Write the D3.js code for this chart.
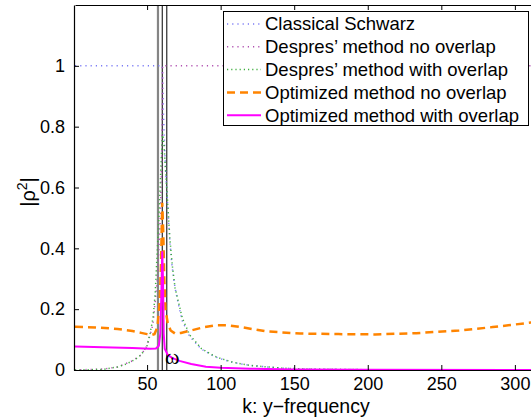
<!DOCTYPE html>
<html>
<head>
<meta charset="utf-8">
<script src="https://cdn.jsdelivr.net/npm/d3@7"></script>
<style>
  body { margin: 0; background: #fff; }
  svg { display: block; font-family: "Liberation Sans", Arial, sans-serif; }
</style>
</head>
<body>
<div id="chart-area"></div>
<script>
// chart data: [k, |rho|^2]
const classicalSchwarz = [[1,1],[60.4,1],[60.6,0.95],[61,0.86],[62,0.72],[63,0.62],[64,0.54],[65.5,0.42],[67,0.34],[69,0.27],[72,0.2],[74,0.16],[79,0.11],[87,0.068],[96,0.044],[100,0.037],[108,0.025],[120,0.015],[142,0.006],[160,0.003],[200,0.001],[313,0]]
const despresNoOverlap = [[1,0],[20,0.003],[30,0.01],[40,0.03],[46,0.05],[50,0.08],[54,0.15],[57,0.3],[59,0.5],[60,0.7],[60.4,0.9],[60.5,1],[313,1]]
const despresOverlap = [[1,0],[20,0.002],[30,0.01],[36,0.02],[42,0.035],[46,0.05],[50,0.08],[52,0.12],[54,0.17],[55.5,0.25],[57,0.4],[58.5,0.55],[59.5,0.68],[60.5,0.78],[61.5,0.74],[62.5,0.66],[64,0.55],[65.5,0.43],[67,0.35],[69,0.27],[72,0.21],[74,0.17],[79,0.115],[87,0.07],[96,0.045],[100,0.038],[108,0.026],[120,0.015],[142,0.006],[160,0.003],[200,0.001],[313,0]]
const optimizedNoOverlap = [[1,0.142],[15,0.14],[30,0.135],[40,0.128],[46,0.122],[50,0.118],[53,0.115],[55,0.118],[57,0.14],[58.5,0.22],[59.5,0.35],[60.3,0.55],[61,0.45],[61.7,0.3],[62.5,0.2],[64,0.155],[66,0.13],[69,0.12],[73,0.122],[80,0.13],[88,0.14],[97,0.147],[105,0.147],[115,0.14],[131,0.127],[154,0.12],[180,0.118],[205,0.117],[233,0.121],[262,0.13],[285,0.141],[313,0.157]]
const optimizedOverlap = [[1,0.077],[20,0.075],[40,0.072],[52,0.07],[56,0.071],[58,0.08],[59,0.12],[59.7,0.25],[60.3,0.39],[60.8,0.3],[61.3,0.12],[62,0.07],[64,0.05],[67,0.04],[72,0.03],[80,0.02],[90,0.011],[100,0.007],[120,0.004],[150,0.002],[200,0.001],[313,0]]

const seriesNames = ["Classical Schwarz", "Despres\u2019 method no overlap", "Despres\u2019 method with overlap", "Optimized method no overlap", "Optimized method with overlap"]
const markerK = [57.4, 60.3, 63.4]
const xTicks = [50, 100, 150, 200, 250, 300]
const yTicks = [0, 0.2, 0.4, 0.6, 0.8, 1]
const omegaPos = [62.1, 0.02]

const width = 531, height = 419
const padLeft = 74, padTop = 5, padBottom = 370

// styles for each series
const styles = [
  {color: "#7b7bf5", w: 1.5, dash: "1.2,4"},
  {color: "#b04fb0", w: 1.5, dash: "1.2,4"},
  {color: "#3fae3f", w: 1.5, dash: "1.2,3"},
  {color: "#ff8400", w: 2.5, dash: "8,5"},
  {color: "#ff00ff", w: 2, dash: null}
]
const allSeries = [classicalSchwarz, despresNoOverlap, despresOverlap, optimizedNoOverlap, optimizedOverlap]

let x = d3.scaleLinear().domain([1, 313]).range([75, 534])
let y = d3.scaleLinear().domain([0, 1.2]).range([padBottom, padTop])

let svg = d3.select("#chart-area").append("svg")
  .attr("width", width)
  .attr("height", height)

svg.append("defs").append("clipPath").attr("id", "clip")
  .append("rect").attr("x", padLeft).attr("y", padTop).attr("width", 534 - padLeft).attr("height", padBottom - padTop)

let plot = svg.append("g").attr("clip-path", "url(#clip)")

// vertical marker lines
plot.selectAll(".marker")
  .data(markerK)
  .enter().append("line")
  .attr("x1", d => x(d)).attr("x2", d => x(d))
  .attr("y1", padTop).attr("y2", padBottom)
  .attr("stroke", (d, i) => i == 0 ? "#858585" : "#000")
  .attr("stroke-width", (d, i) => i == 0 ? 2.2 : 1)

let line = d3.line().x(d => x(d[0])).y(d => y(d[1]))

allSeries.forEach((s, i) => {
  plot.append("path")
    .attr("d", line(s))
    .attr("fill", "none")
    .attr("stroke", styles[i].color)
    .attr("stroke-width", styles[i].w)
    .attr("stroke-dasharray", styles[i].dash)
})

// omega annotation
svg.append("text")
  .attr("x", x(omegaPos[0]))
  .attr("y", y(omegaPos[1]))
  .attr("font-family", "Liberation Serif, serif")
  .attr("font-size", 22)
  .text("\u03c9")

// axes (matlab style, ticks inward)
let xAxis = d3.axisBottom(x).tickValues(xTicks).tickSizeInner(-5).tickSizeOuter(0).tickPadding(7)
let yAxis = d3.axisLeft(y).tickValues(yTicks).tickSizeInner(-5).tickSizeOuter(0).tickPadding(9)
  .tickFormat(d => d == 0 || d == 1 ? d3.format("d")(d) : d3.format(".1f")(d))

let gx = svg.append("g")
  .attr("transform", "translate(0," + padBottom + ")")
  .call(xAxis)
let gy = svg.append("g")
  .attr("transform", "translate(" + padLeft + ",0)")
  .call(yAxis)

// top border with ticks
svg.append("g")
  .attr("transform", "translate(0," + padTop + ")")
  .call(d3.axisTop(x).tickValues(xTicks).tickSizeInner(-5).tickSizeOuter(0).tickFormat(""))

;[gx, gy].forEach(g => {
  g.selectAll("text").attr("font-size", 18).attr("fill", "#000").attr("font-family", "Liberation Sans, Arial, sans-serif")
})
svg.selectAll(".domain").attr("stroke", "#000").attr("stroke-width", 1.2)
svg.selectAll(".tick line").attr("stroke", "#000")

// axis labels
svg.append("text")
  .attr("x", 306)
  .attr("y", 413)
  .attr("text-anchor", "middle")
  .attr("font-size", 19.5)
  .text("k: y\u2212frequency")

let ylab = svg.append("text")
  .attr("transform", "translate(35,192) rotate(-90)")
  .attr("text-anchor", "middle")
  .attr("font-size", 20)
ylab.append("tspan").text("|\u03c1")
ylab.append("tspan").attr("font-size", 14).attr("dy", -8).text("2")
ylab.append("tspan").attr("dy", 8).text("|")

// legend
let legend = svg.append("g")
legend.append("rect")
  .attr("x", 223.5).attr("y", 11.5)
  .attr("width", 305).attr("height", 114)
  .attr("fill", "#fff").attr("stroke", "#000").attr("stroke-width", 1)

seriesNames.forEach((name, i) => {
  let cy = 24 + i * 22.8
  legend.append("line")
    .attr("x1", 227).attr("x2", 261)
    .attr("y1", cy).attr("y2", cy)
    .attr("stroke", styles[i].color)
    .attr("stroke-width", styles[i].w)
    .attr("stroke-dasharray", styles[i].dash)
  legend.append("text")
    .attr("x", 265).attr("y", cy)
    .attr("dy", "0.35em")
    .attr("font-size", 18.5)
    .text(name)
})
</script>
</body>
</html>
